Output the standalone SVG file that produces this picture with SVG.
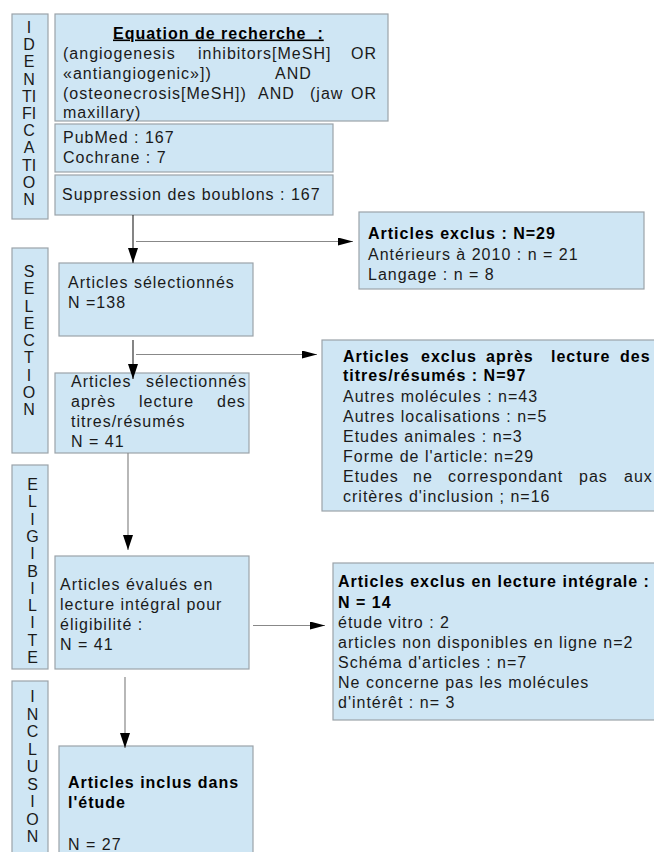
<svg xmlns="http://www.w3.org/2000/svg" width="654" height="852" viewBox="0 0 654 852">
<style>
.box{fill:#cfe6f4;stroke:#9ba3a9;stroke-width:1.2}
.t{font-family:"Liberation Sans",Arial,sans-serif;font-size:16px;letter-spacing:1px;fill:#1a1a1a}
.b{font-weight:bold;fill:#000}
.side{font-family:"Liberation Sans",Arial,sans-serif;font-size:16px;text-anchor:middle;fill:#1a1a1a}
.ln{stroke:#333;stroke-width:1.2;fill:none}
.lg{stroke:#888;stroke-width:1.2;fill:none}
</style>
<defs>
<marker id="av" markerWidth="15" markerHeight="10" refX="15" refY="5" orient="auto" markerUnits="userSpaceOnUse"><path d="M0,0 L15,5 L0,10 z" fill="#000"/></marker>
<marker id="ah" markerWidth="15" markerHeight="8" refX="15" refY="4" orient="auto" markerUnits="userSpaceOnUse"><path d="M0,0 L15,4 L0,8 z" fill="#000"/></marker>
</defs>
<rect width="654" height="852" fill="#fff"/>

<g id="side-identification">
<rect class="box" x="12" y="14" width="36" height="205"/>
<text class="side"><tspan x="29" y="33">I</tspan><tspan x="29" y="50.2">D</tspan><tspan x="29" y="67.4">E</tspan><tspan x="29" y="84.6">N</tspan><tspan x="29" y="101.8">TI</tspan><tspan x="29" y="119">FI</tspan><tspan x="29" y="136.2">C</tspan><tspan x="29" y="153.4">A</tspan><tspan x="29" y="170.6">TI</tspan><tspan x="29" y="187.8">O</tspan><tspan x="29" y="205">N</tspan></text>
</g>
<g id="side-selection">
<rect class="box" x="12" y="248" width="36" height="205"/>
<text class="side"><tspan x="29" y="277">S</tspan><tspan x="29" y="294.2">E</tspan><tspan x="29" y="311.5">L</tspan><tspan x="29" y="328.7">E</tspan><tspan x="29" y="346">C</tspan><tspan x="29" y="363.2">T</tspan><tspan x="29" y="380.5">I</tspan><tspan x="29" y="397.7">O</tspan><tspan x="29" y="415">N</tspan></text>
</g>
<g id="side-eligibilite">
<rect class="box" x="12" y="465" width="36" height="204"/>
<text class="side"><tspan x="32.5" y="490">E</tspan><tspan x="32.5" y="507.3">L</tspan><tspan x="32.5" y="524.6">I</tspan><tspan x="32.5" y="541.9">G</tspan><tspan x="32.5" y="559.2">I</tspan><tspan x="32.5" y="576.5">B</tspan><tspan x="32.5" y="593.8">I</tspan><tspan x="32.5" y="611.1">L</tspan><tspan x="32.5" y="628.4">I</tspan><tspan x="32.5" y="645.7">T</tspan><tspan x="32.5" y="663">E</tspan></text>
</g>
<g id="side-inclusion">
<rect class="box" x="12" y="681" width="36" height="180"/>
<text class="side"><tspan x="32.5" y="702">I</tspan><tspan x="32.5" y="719.5">N</tspan><tspan x="32.5" y="737">C</tspan><tspan x="32.5" y="754.5">L</tspan><tspan x="32.5" y="772">U</tspan><tspan x="32.5" y="789.5">S</tspan><tspan x="32.5" y="807">I</tspan><tspan x="32.5" y="824.5">O</tspan><tspan x="32.5" y="842">N</tspan></text>
</g>

<g id="equation">
<rect class="box" x="55" y="14" width="333" height="107"/>
<text class="t b" x="113" y="38.5" style="white-space:pre;text-decoration:underline">Equation de recherche  :</text>
<text class="t"><tspan x="63" y="58.5">(angiogenesis</tspan><tspan x="198" y="58.5">inhibitors[MeSH]</tspan><tspan x="351" y="58.5">OR</tspan></text>
<text class="t"><tspan x="63" y="78.5">«antiangiogenic»])</tspan><tspan x="275" y="78.5">AND</tspan></text>
<text class="t"><tspan x="63" y="98.5">(osteonecrosis[MeSH])</tspan><tspan x="258" y="98.5">AND</tspan><tspan x="310" y="98.5">(jaw</tspan><tspan x="351" y="98.5">OR</tspan></text>
<text class="t" x="63" y="118">maxillary)</text>
</g>

<g id="databases">
<rect class="box" x="55" y="124" width="278" height="48"/>
<text class="t"><tspan x="63" y="143">PubMed : 167</tspan><tspan x="63" y="163">Cochrane : 7</tspan></text>
</g>

<g id="suppression">
<rect class="box" x="55" y="175" width="278" height="40"/>
<text class="t" x="62" y="200">Suppression des boublons : 167</text>
</g>

<g id="exclus-29">
<rect class="box" x="359" y="212" width="285" height="77"/>
<text class="t"><tspan class="b" x="368" y="239">Articles exclus : N=29</tspan><tspan x="368" y="260">Antérieurs à 2010 : n = 21</tspan><tspan x="368" y="280">Langage : n = 8</tspan></text>
</g>

<g id="selectionnes-138">
<rect class="box" x="59" y="263" width="194" height="73"/>
<text class="t"><tspan x="68" y="288">Articles sélectionnés</tspan><tspan x="68" y="308">N =138</tspan></text>
</g>

<g id="selectionnes-41">
<rect class="box" x="55" y="373" width="194" height="80"/>
<text class="t"><tspan x="71" y="387">Articles</tspan><tspan x="146" y="387">sélectionnés</tspan></text>
<text class="t"><tspan x="71" y="407">après</tspan><tspan x="139" y="407">lecture</tspan><tspan x="217" y="407">des</tspan></text>
<text class="t"><tspan x="71" y="427">titres/résumés</tspan><tspan x="71" y="447">N = 41</tspan></text>
</g>

<g id="exclus-97">
<rect class="box" x="322" y="340" width="340" height="171"/>
<text class="t b"><tspan x="343" y="362">Articles</tspan><tspan x="421" y="362">exclus</tspan><tspan x="486" y="362">après</tspan><tspan x="551" y="362">lecture</tspan><tspan x="620" y="362">des</tspan></text>
<text class="t b" x="343" y="381">titres/résumés : N=97</text>
<text class="t"><tspan x="343" y="402">Autres molécules : n=43</tspan><tspan x="343" y="422">Autres localisations : n=5</tspan><tspan x="343" y="442">Etudes animales : n=3</tspan><tspan x="343" y="462">Forme de l'article: n=29</tspan></text>
<text class="t"><tspan x="343" y="482">Etudes</tspan><tspan x="413" y="482">ne</tspan><tspan x="448" y="482">correspondant</tspan><tspan x="579" y="482">pas</tspan><tspan x="624" y="482">aux</tspan></text>
<text class="t" x="343" y="502">critères d'inclusion ; n=16</text>
</g>

<g id="evalues-41">
<rect class="box" x="55" y="556" width="194" height="113"/>
<text class="t"><tspan x="60" y="590">Articles évalués en</tspan><tspan x="60" y="610">lecture intégral pour</tspan><tspan x="60" y="630">éligibilité :</tspan><tspan x="60" y="650">N = 41</tspan></text>
</g>

<g id="exclus-14">
<rect class="box" x="333" y="563" width="330" height="157"/>
<text class="t b"><tspan x="338" y="587">Articles exclus en lecture intégrale :</tspan><tspan x="338" y="608">N = 14</tspan></text>
<text class="t"><tspan x="338" y="628">étude vitro : 2</tspan><tspan x="338" y="648">articles non disponibles en ligne n=2</tspan><tspan x="338" y="668">Schéma d'articles : n=7</tspan><tspan x="338" y="688">Ne concerne pas les molécules</tspan><tspan x="338" y="708">d'intérêt : n= 3</tspan></text>
</g>

<g id="inclus-27">
<rect class="box" x="59" y="746" width="194" height="115"/>
<text class="t b"><tspan x="68" y="788">Articles inclus dans</tspan><tspan x="68" y="808">l'étude</tspan></text>
<text class="t" x="68" y="850">N = 27</text>
</g>

<g id="connectors">
<line class="ln" x1="133" y1="215" x2="133" y2="263" marker-end="url(#av)"/>
<line class="lg" x1="136" y1="241.5" x2="353" y2="241.5" marker-end="url(#ah)"/>
<line class="ln" x1="133" y1="340" x2="133" y2="379" marker-end="url(#av)"/>
<line class="lg" x1="136" y1="354.5" x2="317" y2="354.5" marker-end="url(#ah)"/>
<line class="lg" x1="128" y1="453" x2="128" y2="550" marker-end="url(#av)"/>
<line class="lg" x1="253" y1="625.5" x2="325" y2="625.5" marker-end="url(#ah)"/>
<line class="lg" x1="125" y1="677" x2="125" y2="748" marker-end="url(#av)"/>
</g>
</svg>
